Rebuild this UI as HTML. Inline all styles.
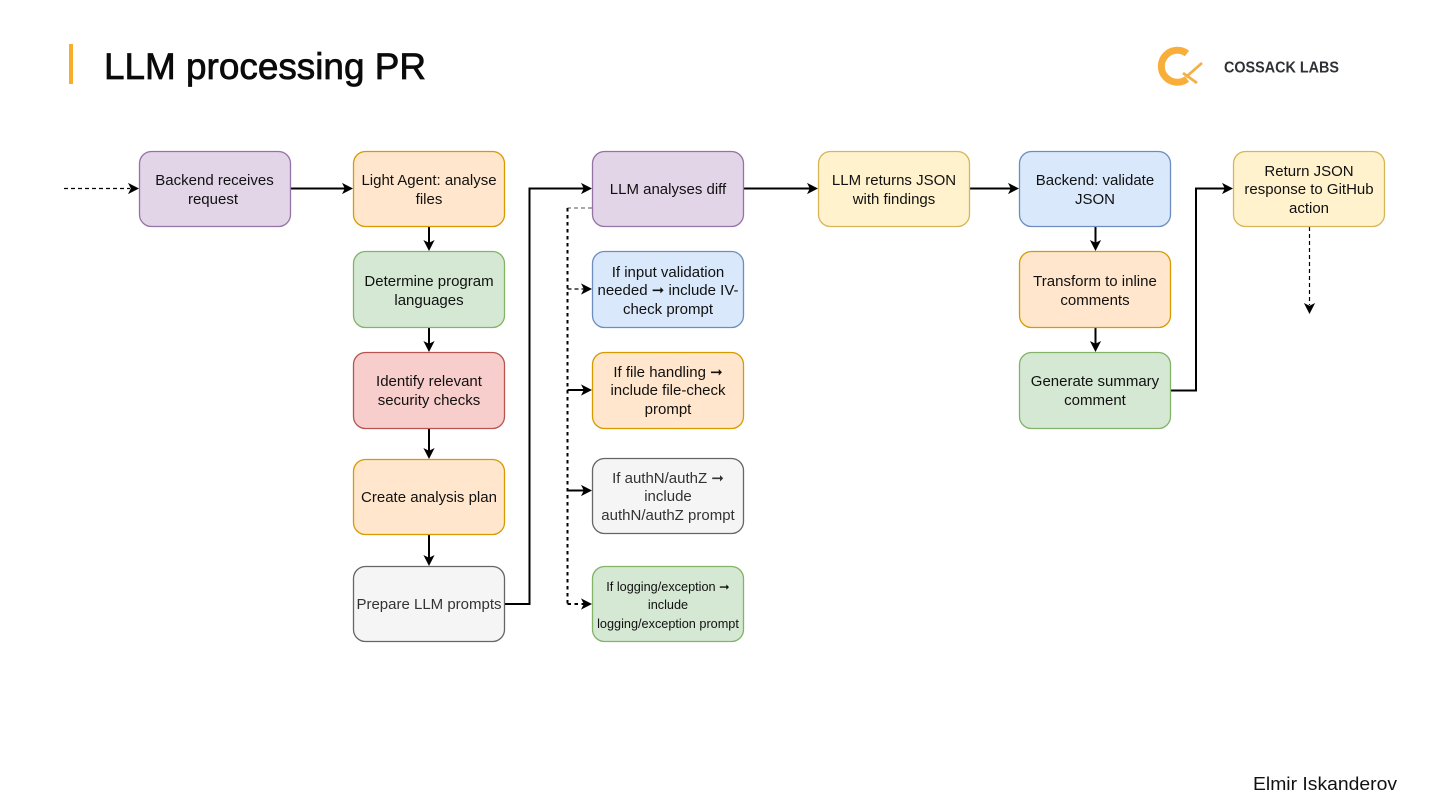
<!DOCTYPE html>
<html><head><meta charset="utf-8"><title>LLM processing PR</title>
<style>
html,body{margin:0;padding:0;background:#fff;width:1440px;height:810px;overflow:hidden}
svg{display:block}
text{font-family:"Liberation Sans",sans-serif;font-size:15px;fill:#111;text-anchor:middle}
.b{stroke-width:1.3}
.l{fill:none;stroke:#000;stroke-width:2}
.d{fill:none;stroke:#000;stroke-width:1.2;stroke-dasharray:4 3}
.t{fill:none;stroke:#000;stroke-width:2;stroke-dasharray:3.5 3.5}
.a{fill:#000}
</style></head><body>
<svg width="1440" height="810" viewBox="0 0 1440 810" xmlns="http://www.w3.org/2000/svg">
<defs>
<path id="r" class="a" d="M0 0L-11 -5.6L-8.200 0L-11 5.6Z"/>
<path id="dn" class="a" d="M0 0L-5.6 -11L0 -8.200L5.6 -11Z"/>
</defs>

<!-- header -->
<rect x="69" y="44" width="4" height="40" fill="#f9ae2b"/>
<text x="104" y="79" style="font-size:37px;text-anchor:start;fill:#0a0a0a;stroke:#0a0a0a;stroke-width:.75" textLength="322" lengthAdjust="spacingAndGlyphs">LLM processing PR</text>

<!-- logo -->
<path d="M1187 53.500A16 16 0 1 0 1187 79" fill="none" stroke="#f9ae3a" stroke-width="7"/>
<path d="M1186 77L1202 63M1183 73L1197 83" fill="none" stroke="#f2b04a" stroke-width="2.800"/>
<text x="1224" y="72.500" style="font-size:15.500px;font-weight:bold;text-anchor:start;fill:#2e3136" textLength="115" lengthAdjust="spacingAndGlyphs">COSSACK LABS</text>

<text x="1253" y="790" style="font-size:18.500px;text-anchor:start;fill:#111" textLength="144" lengthAdjust="spacingAndGlyphs">Elmir Iskanderov</text>

<!-- connectors -->
<path class="d" d="M64 188.500H130"/><use href="#r" x="139" y="188.500"/>
<path class="l" d="M291 188.500H345"/><use href="#r" x="353" y="188.500"/>
<path class="l" d="M429 227V243"/><use href="#dn" x="429" y="251"/>
<path class="l" d="M429 328V344"/><use href="#dn" x="429" y="352"/>
<path class="l" d="M429 429V451"/><use href="#dn" x="429" y="459"/>
<path class="l" d="M429 535V558"/><use href="#dn" x="429" y="566"/>
<path class="l" d="M505 604H529.500V188.500H584"/><use href="#r" x="592" y="188.500"/>
<path d="M592 208H567.500" fill="none" stroke="#555" stroke-width="1" stroke-dasharray="4 3"/>
<path class="t" d="M567.500 208V604"/>
<path class="d" d="M567.500 289H584"/><use href="#r" x="592" y="289"/>
<path class="l" d="M567.500 390H584"/><use href="#r" x="592" y="390"/>
<path class="l" d="M567.500 490.500H584"/><use href="#r" x="592" y="490.500"/>
<path class="t" d="M567.500 604H584"/><use href="#r" x="592" y="604"/>
<path class="l" d="M744 188.500H810"/><use href="#r" x="818" y="188.500"/>
<path class="l" d="M970 188.500H1011"/><use href="#r" x="1019" y="188.500"/>
<path class="l" d="M1095.500 227V243"/><use href="#dn" x="1095.500" y="251"/>
<path class="l" d="M1095.500 328V344"/><use href="#dn" x="1095.500" y="352"/>
<path class="l" d="M1171 390.500H1196V188.500H1225"/><use href="#r" x="1233" y="188.500"/>
<path class="d" d="M1309.500 227V305"/><use href="#dn" x="1309.500" y="314"/>

<!-- nodes -->
<g class="b">
<rect x="139.500" y="151.500" width="151" height="75" rx="12" fill="#e1d5e7" stroke="#9673a6"/>
<rect x="353.500" y="151.500" width="151" height="75" rx="12" fill="#ffe6cc" stroke="#d79b00"/>
<rect x="353.500" y="251.500" width="151" height="76" rx="12" fill="#d5e8d4" stroke="#82b366"/>
<rect x="353.500" y="352.500" width="151" height="76" rx="12" fill="#f8cecc" stroke="#b85450"/>
<rect x="353.500" y="459.500" width="151" height="75" rx="12" fill="#ffe6cc" stroke="#d79b00"/>
<rect x="353.500" y="566.500" width="151" height="75" rx="12" fill="#f5f5f5" stroke="#666666"/>
<rect x="592.500" y="151.500" width="151" height="75" rx="12" fill="#e1d5e7" stroke="#9673a6"/>
<rect x="592.500" y="251.500" width="151" height="76" rx="12" fill="#dae8fc" stroke="#6c8ebf"/>
<rect x="592.500" y="352.500" width="151" height="76" rx="12" fill="#ffe6cc" stroke="#d79b00"/>
<rect x="592.500" y="458.500" width="151" height="75" rx="12" fill="#f5f5f5" stroke="#666666"/>
<rect x="592.500" y="566.500" width="151" height="75" rx="12" fill="#d5e8d4" stroke="#82b366"/>
<rect x="818.500" y="151.500" width="151" height="75" rx="12" fill="#fff2cc" stroke="#d6b656"/>
<rect x="1019.500" y="151.500" width="151" height="75" rx="12" fill="#dae8fc" stroke="#6c8ebf"/>
<rect x="1019.500" y="251.500" width="151" height="76" rx="12" fill="#ffe6cc" stroke="#d79b00"/>
<rect x="1019.500" y="352.500" width="151" height="76" rx="12" fill="#d5e8d4" stroke="#82b366"/>
<rect x="1233.500" y="151.500" width="151" height="75" rx="12" fill="#fff2cc" stroke="#d6b656"/>
</g>

<!-- labels -->
<text x="214.500" y="185">Backend receives</text><text x="213" y="204">request</text>
<text x="429" y="185">Light Agent: analyse</text><text x="429" y="204">files</text>
<text x="429" y="286">Determine program</text><text x="429" y="305">languages</text>
<text x="429" y="386">Identify relevant</text><text x="429" y="405">security checks</text>
<text x="429" y="502">Create analysis plan</text>
<text x="429" y="609" style="fill:#333">Prepare LLM prompts</text>

<text x="668" y="194">LLM analyses diff</text>
<text x="668" y="277">If input validation</text><text x="668" y="295">needed ➞ include IV-</text><text x="668" y="314">check prompt</text>
<text x="668" y="377">If file handling ➞</text><text x="668" y="395">include file-check</text><text x="668" y="414">prompt</text>
<text x="668" y="483" style="fill:#333">If authN/authZ ➞</text><text x="668" y="501" style="fill:#333">include</text><text x="668" y="520" style="fill:#333">authN/authZ prompt</text>
<text x="668" y="591" style="font-size:12.700px">If logging/exception ➞</text><text x="668" y="609" style="font-size:12.700px">include</text><text x="668" y="628" style="font-size:12.700px">logging/exception prompt</text>

<text x="894" y="185">LLM returns JSON</text><text x="894" y="204">with findings</text>
<text x="1095" y="185">Backend: validate</text><text x="1095" y="204">JSON</text>
<text x="1095" y="286">Transform to inline</text><text x="1095" y="305">comments</text>
<text x="1095" y="386">Generate summary</text><text x="1095" y="405">comment</text>
<text x="1309" y="176">Return JSON</text><text x="1309" y="194">response to GitHub</text><text x="1309" y="213">action</text>
</svg>
</body></html>
